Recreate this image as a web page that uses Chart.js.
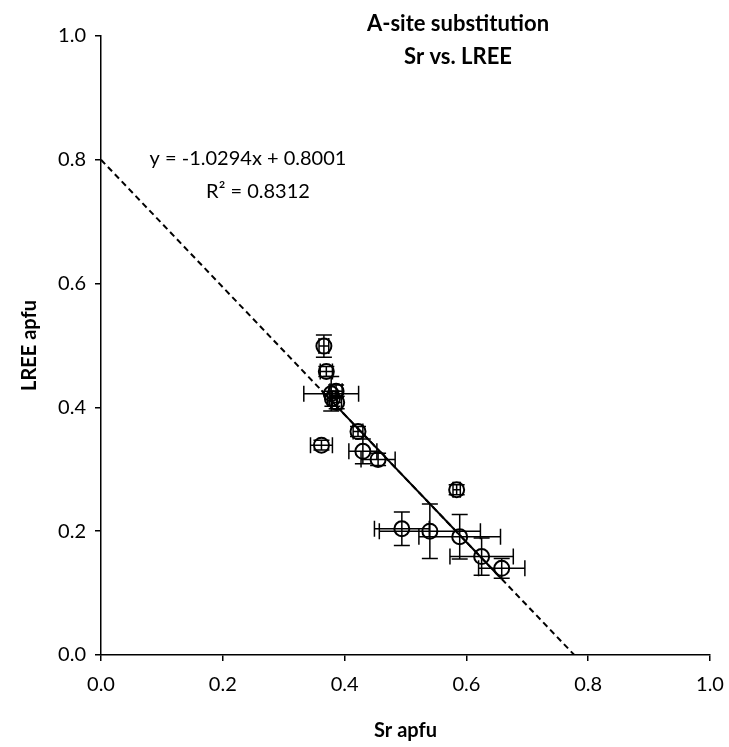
<!DOCTYPE html>
<html>
<head>
<meta charset="utf-8">
<script src="https://cdn.jsdelivr.net/npm/chart.js@4.4.1/dist/chart.umd.min.js"></script>
<style>
  html, body { margin: 0; padding: 0; background: #fff; }
  #wrap { width: 729px; height: 747px; }
</style>
</head>
<body>
<div id="wrap"><canvas id="chartSrLree" width="729" height="747"></canvas></div>
<script>
// Sr vs LREE (apfu) with error bars
const srApfu   = [0.366, 0.370, 0.378, 0.386, 0.380, 0.387, 0.362, 0.422, 0.430, 0.455, 0.584, 0.494, 0.540, 0.589, 0.625, 0.658];
const lreeApfu = [0.499, 0.458, 0.422, 0.426, 0.414, 0.408, 0.339, 0.361, 0.329, 0.316, 0.267, 0.204, 0.200, 0.191, 0.159, 0.140];
const srErr    = [0.008, 0.010, 0.045, 0.010, 0.008, 0.008, 0.018, 0.008, 0.023, 0.028, 0.006, 0.045, 0.083, 0.067, 0.052, 0.038];
const lreeErr  = [0.018, 0.008, 0.028, 0.010, 0.012, 0.010, 0.008, 0.008, 0.020, 0.010, 0.008, 0.027, 0.044, 0.036, 0.030, 0.016];

const xTicks = [0, 0.2, 0.4, 0.6, 0.8, 1.0];
const yTicks = [0, 0.2, 0.4, 0.6, 0.8, 1.0];

// linear trendline from the chart
const trendSlope = -1.0294;
const trendIntercept = 0.8001;
const titleLines = ["A-site substitution", "Sr vs. LREE"];
const eqLines = ["y = -1.0294x + 0.8001", "R\u00B2 = 0.8312"];

const FONT = "Lato, 'Open Sans', sans-serif";

const pontos = srApfu.map((x, i) => ({ x: x, y: lreeApfu[i] }));
const trendY = (x) => trendSlope * x + trendIntercept;
const xMin = Math.min(...srApfu);
const xMax = Math.max(...srApfu);
const xZero = -trendIntercept / trendSlope;

const errorBars = {
  id: "errorBars",
  afterDatasetsDraw(chart) {
    const { ctx, scales } = chart;
    const sx = scales.x, sy = scales.y;
    const cap = 8;
    ctx.save();
    ctx.strokeStyle = "#000";
    ctx.lineWidth = 1.5;
    srApfu.forEach((xv, i) => {
      const px = sx.getPixelForValue(xv);
      const py = sy.getPixelForValue(lreeApfu[i]);
      const xa = sx.getPixelForValue(xv - srErr[i]);
      const xb = sx.getPixelForValue(xv + srErr[i]);
      const ya = sy.getPixelForValue(lreeApfu[i] - lreeErr[i]);
      const yb = sy.getPixelForValue(lreeApfu[i] + lreeErr[i]);
      ctx.beginPath();
      // horizontal
      ctx.moveTo(xa, py); ctx.lineTo(xb, py);
      ctx.moveTo(xa, py - cap); ctx.lineTo(xa, py + cap);
      ctx.moveTo(xb, py - cap); ctx.lineTo(xb, py + cap);
      // vertical
      ctx.moveTo(px, ya); ctx.lineTo(px, yb);
      ctx.moveTo(px - cap, ya); ctx.lineTo(px + cap, ya);
      ctx.moveTo(px - cap, yb); ctx.lineTo(px + cap, yb);
      ctx.stroke();
    });
    ctx.restore();
  },
};

const textos = {
  id: "textos",
  afterDraw(chart) {
    const { ctx } = chart;
    ctx.save();
    ctx.fillStyle = "#000";
    ctx.textAlign = "center";
    ctx.textBaseline = "middle";
    ctx.font = "bold 22px " + FONT;
    ctx.fillText(titleLines[0], 458, 24);
    ctx.fillText(titleLines[1], 458, 57);
    ctx.font = "20px " + FONT;
    ctx.fillText(eqLines[0], 248, 159);
    ctx.fillText(eqLines[1], 258, 192);
    ctx.restore();
  },
};

const ctx = document.getElementById("chartSrLree");
new Chart(ctx.getContext("2d"), {
  type: "scatter",
  data: {
    datasets: [
      {
        label: "Sr vs LREE",
        data: pontos,
        pointStyle: "circle",
        pointRadius: 7.5,
        pointBorderWidth: 2,
        pointBorderColor: "#000",
        pointBackgroundColor: "rgba(0,0,0,0)",
        showLine: false,
        order: 1,
      },
      {
        label: "trend (dashed)",
        type: "line",
        data: [{ x: 0, y: trendY(0) }, { x: xZero, y: 0 }],
        borderColor: "#000",
        borderWidth: 2,
        borderDash: [6, 4],
        pointRadius: 0,
        fill: false,
        order: 2,
      },
      {
        label: "trend (solid)",
        type: "line",
        data: [{ x: xMin, y: trendY(xMin) }, { x: xMax, y: trendY(xMax) }],
        borderColor: "#000",
        borderWidth: 2,
        pointRadius: 0,
        fill: false,
        order: 2,
      },
    ],
  },
  options: {
    responsive: false,
    animation: false,
    layout: { padding: { top: 36, right: 19, left: 0, bottom: 0 } },
    plugins: {
      legend: { display: false },
      tooltip: { enabled: false },
    },
    scales: {
      x: {
        type: "linear",
        min: 0,
        max: 1,
        afterBuildTicks: (axis) => { axis.ticks = xTicks.map((v) => ({ value: v })); },
        afterFit: (axis) => {
          axis.height = 92;
          axis.paddingRight = 0;
          axis.paddingLeft = 0;
        },
        ticks: {
          color: "#000",
          font: { family: FONT, size: 20 },
          padding: 12,
          callback: (v) => Number(v).toFixed(1),
        },
        grid: { display: true, drawOnChartArea: false, drawTicks: true, tickLength: 6, color: "#000", lineWidth: 1.5 },
        border: { display: true, color: "#000", width: 1.5 },
        title: { display: true, text: "Sr apfu", color: "#000", font: { family: FONT, size: 20, weight: "bold" }, padding: { top: 10 } },
      },
      y: {
        type: "linear",
        min: 0,
        max: 1,
        afterBuildTicks: (axis) => { axis.ticks = yTicks.map((v) => ({ value: v })); },
        afterFit: (axis) => { axis.width = 101; },
        ticks: {
          color: "#000",
          font: { family: FONT, size: 20 },
          padding: 9,
          callback: (v) => Number(v).toFixed(1),
        },
        grid: { display: true, drawOnChartArea: false, drawTicks: true, tickLength: 6, color: "#000", lineWidth: 1.5 },
        border: { display: true, color: "#000", width: 1.5 },
        title: { display: true, text: "LREE apfu", color: "#000", font: { family: FONT, size: 20, weight: "bold" }, padding: { top: 18, bottom: 0 } },
      },
    },
  },
  plugins: [errorBars, textos],
});
</script>
</body>
</html>
